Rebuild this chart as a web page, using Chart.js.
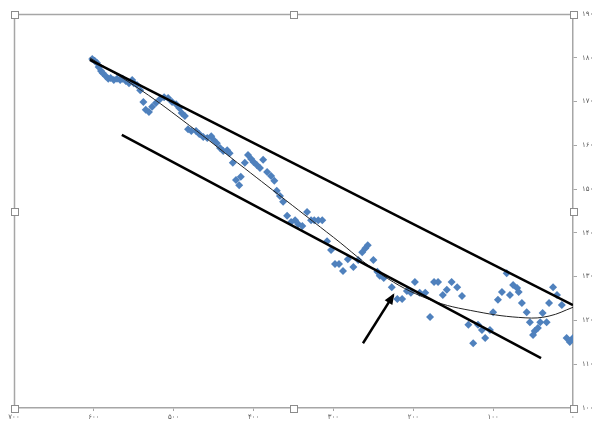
<!DOCTYPE html>
<html>
<head>
<meta charset="utf-8">
<script src="https://cdn.jsdelivr.net/npm/chart.js@4/dist/chart.umd.min.js"></script>
<style>
  html, body { margin: 0; padding: 0; background: #ffffff; }
  #wrap { width: 597px; height: 423px; position: relative; }
</style>
</head>
<body>
<div id="wrap"><canvas id="c" width="597" height="423"></canvas></div>
<script>
// ---- data ----
const pointsX = [602,599,596,594,591,589,585,582,579,575,571,567,564,560,556,552,550,546,542,
  538,535,531,527,522,517,512,507,502,497,493,
  490,486,482,478,472,468,463,458,453,450,446,442,438,433,430,
  426,422,418,416,411,407,403,400,396,392,388,383,378,374,371,
  367,363,358,353,348,344,339,333,328,324,319,314,308,303,298,293,288,282,275,269,264,260,257,
  250,245,242,237,227,220,214,208,203,198,192,185,179,174,169,163,158,152,145,139,
  131,125,119,114,110,104,100,94,89,83,79,75,70,68,64,58,54,50,48,44,41,38,33,30,25,20,14,8,4,0];
const pointsY = [179.7,179.3,178.8,177.9,177.0,176.5,175.8,175.2,175.4,174.9,175.2,174.9,175.2,174.7,174.2,174.9,174.2,173.8,172.6,
  169.9,168.1,167.6,168.8,169.7,170.6,171.0,170.8,169.9,169.4,168.5,
  167.4,166.7,163.7,163.3,163.3,162.6,161.9,161.7,162.1,161.2,160.5,159.4,158.7,158.9,158.2,
  156.0,152.1,150.9,152.8,156.0,157.8,156.9,156.2,155.5,154.8,156.7,153.9,153.0,151.9,149.6,
  148.4,147.1,143.9,142.5,142.9,142.0,141.6,144.8,142.9,142.9,142.9,142.9,138.1,136.1,132.9,132.9,131.3,134.0,132.2,133.8,135.6,136.5,137.2,
  133.8,131.1,130.2,129.7,127.6,124.9,124.9,126.7,126.3,128.8,126.3,126.3,120.8,128.8,128.8,125.8,127.0,128.8,127.6,125.6,
  119.0,114.8,119.0,117.8,116.0,117.8,121.9,124.7,126.5,130.8,125.8,128.1,127.4,126.5,124.0,121.9,119.6,116.7,117.6,118.3,119.6,121.7,119.6,124.0,127.6,125.8,123.5,116.0,115.1,116.0];

const upperLineX = [605, 0];
const upperLineY = [179.5, 123.5];
const lowerLineX = [565, 40];
const lowerLineY = [162.4, 111.4];
const curveX = [605, 540, 480, 420, 360, 300, 240, 180, 120, 60, 30, 0];
const curveY = [180, 172.5, 164.5, 156, 147.5, 139, 130.5, 124.8, 122, 120.6, 121, 123];
const arrowX = [263, 225];
const arrowY = [114.8, 125.8];

const xTickLabels = ['۰','۱۰۰','۲۰۰','۳۰۰','۴۰۰','۵۰۰','۶۰۰','۷۰۰'];
const yTickLabels = ['۱۰۰','۱۱۰','۱۲۰','۱۳۰','۱۴۰','۱۵۰','۱۶۰','۱۷۰','۱۸۰','۱۹۰'];

const toXY = (xs, ys) => xs.map((x, i) => ({ x: x, y: ys[i] }));

const frameColor = '#a6a6a6';

const framePlugin = {
  id: 'frame',
  afterDatasetsDraw(chart) {
    const ctx = chart.ctx;
    // arrow head
    const meta = chart.getDatasetMeta(4);
    if (meta && meta.data.length === 2) {
      const p0 = meta.data[0], p1 = meta.data[1];
      const ang = Math.atan2(p1.y - p0.y, p1.x - p0.x);
      const L = 9, W = 4.5;
      ctx.save();
      ctx.fillStyle = '#000';
      ctx.beginPath();
      ctx.moveTo(p1.x + Math.cos(ang) * 2, p1.y + Math.sin(ang) * 2);
      ctx.lineTo(p1.x - Math.cos(ang) * L + Math.sin(ang) * W, p1.y - Math.sin(ang) * L - Math.cos(ang) * W);
      ctx.lineTo(p1.x - Math.cos(ang) * L - Math.sin(ang) * W, p1.y - Math.sin(ang) * L + Math.cos(ang) * W);
      ctx.closePath();
      ctx.fill();
      ctx.restore();
    }
  },
  afterDraw(chart) {
    const a = chart.chartArea;
    const ctx = chart.ctx;
    ctx.save();
    ctx.strokeStyle = frameColor;
    ctx.lineWidth = 1.5;
    ctx.beginPath();
    ctx.moveTo(Math.round(a.left) + 0.5, Math.round(a.bottom));
    ctx.lineTo(Math.round(a.left) + 0.5, Math.round(a.top) + 0.5);
    ctx.lineTo(Math.round(a.right), Math.round(a.top) + 0.5);
    ctx.stroke();
    const mx = (a.left + a.right) / 2, my = (a.top + a.bottom) / 2;
    const hs = [[a.left, a.top],[mx, a.top],[a.right, a.top],[a.left, my],[a.right, my],[a.left, a.bottom],[mx, a.bottom],[a.right, a.bottom]];
    ctx.lineWidth = 1;
    ctx.strokeStyle = '#8c8c8c';
    ctx.fillStyle = '#ffffff';
    hs.forEach(([x, y]) => {
      const s = 7;
      const rx = Math.round(x - s / 2) + 0.5, ry = Math.round(y - s / 2) + 0.5;
      ctx.fillRect(rx, ry, s, s);
      ctx.strokeRect(rx, ry, s, s);
    });
    ctx.restore();
  }
};

new Chart(document.getElementById('c'), {
  type: 'scatter',
  data: {
    datasets: [
      { type: 'line', data: toXY(upperLineX, upperLineY), borderColor: '#000', borderWidth: 2.5, pointRadius: 0, fill: false, order: 1 },
      { type: 'line', data: toXY(lowerLineX, lowerLineY), borderColor: '#000', borderWidth: 2.5, pointRadius: 0, fill: false, order: 1 },
      { type: 'line', data: toXY(curveX, curveY), borderColor: '#222', borderWidth: 1, pointRadius: 0, fill: false, tension: 0.4, order: 1 },
      { type: 'scatter', data: toXY(pointsX, pointsY), pointStyle: 'rectRot', pointRadius: 4, pointHoverRadius: 4,
        backgroundColor: '#4f81bd', borderColor: '#4f81bd', borderWidth: 0, order: 5 },
      { type: 'line', data: toXY(arrowX, arrowY), borderColor: '#000', borderWidth: 2.5, pointRadius: 0, fill: false, order: 0 }
    ]
  },
  options: {
    responsive: false,
    animation: false,
    events: [],
    layout: { padding: { left: 14, top: 14, right: 0, bottom: 0 } },
    plugins: { legend: { display: false }, tooltip: { enabled: false } },
    scales: {
      x: {
        type: 'linear', min: 0, max: 700, reverse: true,
        afterFit(s) { s.height = 15; },
        grid: { drawOnChartArea: false, drawTicks: true, tickLength: 3, color: frameColor },
        border: { display: true, color: frameColor, width: 1.5 },
        ticks: { stepSize: 100, padding: 2, color: '#595959', font: { family: 'DejaVu Sans', size: 7 },
          maxRotation: 0, autoSkip: false,
          callback: (v) => xTickLabels[Math.round(v / 100)] }
      },
      y: {
        type: 'linear', position: 'right', min: 100, max: 190,
        afterFit(s) { s.width = 24; },
        grid: { drawOnChartArea: false, drawTicks: true, tickLength: 4, color: frameColor },
        border: { display: true, color: frameColor, width: 1.5 },
        ticks: { stepSize: 10, padding: 5, color: '#595959', font: { family: 'DejaVu Sans', size: 7 },
          callback: (v) => yTickLabels[Math.round((v - 100) / 10)] }
      }
    }
  },
  plugins: [framePlugin]
});
</script>
</body>
</html>
